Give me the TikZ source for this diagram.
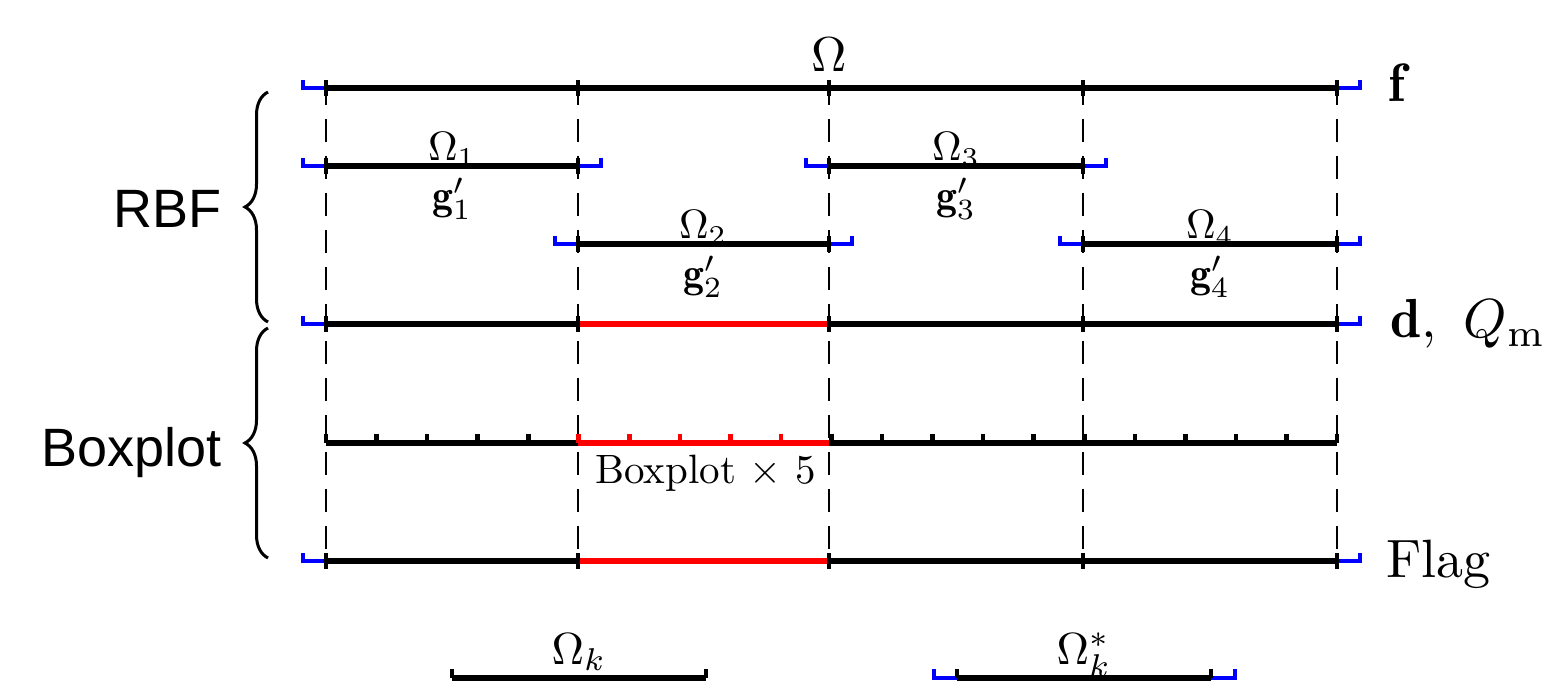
\documentclass[tikz,border=0pt]{standalone}
\usepackage{fontspec}
\usepackage{graphicx}
\newfontfamily\sansf{Liberation Sans}
\usetikzlibrary{decorations.pathreplacing}

% blue overlap ends of a sub-interval on row #1 spanning #2..#3
\newcommand\overlapends[3]{%
  \draw[ext] ({#2-23},{#1-8}) |- (#2,#1);
  \draw[ext] ({#3+23},{#1-8}) |- (#3,#1);
}
% black end tick crossing row #1 at #2
\newcommand\crosstick[2]{%
  \draw[tk] (#2,{#1-8}) -- (#2,{#1+8});
}
% 10pt text magnified by #1
\newcommand\enlarged[2]{\scalebox{#1}{#2}}

\begin{document}
\begin{tikzpicture}[x=0.5pt,y=-0.5pt,
  seg/.style={line width=2.7pt, black},
  hot/.style={line width=2.7pt, red},
  ext/.style={line width=2.4pt, blue, line join=miter},
  tk/.style={line width=2.3pt, black},
  rtk/.style={line width=2.3pt, red},
  guide/.style={line width=1.4pt, dash pattern=on 11.5pt off 7pt, dash phase=3pt},
  lab/.style={font=\fontsize{10}{12}\selectfont, inner sep=0pt},
  side/.style={font=\sansf\fontsize{27}{30}\selectfont, inner sep=0pt},
  brc/.style={decorate, decoration={brace, amplitude=11.5pt}, line width=1.5pt}]
\useasboundingbox (0,0) rectangle (1557,683);

% vertical guides through the subdomain boundaries
\foreach \x [count=\i] in {326,578,829,1083,1337} {
  \coordinate (top\i) at (\x,88);
  \coordinate (bot\i) at (\x,561);
  \draw[guide] (top\i) -- (bot\i);
}

% ---- full domain f ----
\overlapends{88}{326}{1337}
\draw[seg] (326,88) -- (1337,88);
\foreach \x in {326,578,829,1083,1337} {\crosstick{88}{\x}}
\node[lab, anchor=base] (om) at (829,72) {\enlarged{2.45}{$\Omega$}};
\node[lab, anchor=base west] (lf) at (1388,102) {\enlarged{2.7}{$\mathbf{f}$}};

% ---- subdomains 1 and 3 ----
\overlapends{166}{326}{578}
\overlapends{166}{829}{1083}
\draw[seg] (326,166) -- (578,166);
\draw[seg] (829,166) -- (1083,166);
\foreach \x in {326,578,829,1083} {\crosstick{166}{\x}}
\node[lab, anchor=base] (o1) at (452,161) {\enlarged{2.05}{$\Omega_1$}};
\node[lab] (g1) at (452,199) {\enlarged{2.1}{$\mathbf{g}'_1$}};
\node[lab, anchor=base] (o3) at (956,161) {\enlarged{2.05}{$\Omega_3$}};
\node[lab] (g3) at (956,199) {\enlarged{2.1}{$\mathbf{g}'_3$}};

% ---- subdomains 2 and 4 ----
\overlapends{244}{578}{829}
\overlapends{244}{1083}{1337}
\draw[seg] (578,244) -- (829,244);
\draw[seg] (1083,244) -- (1337,244);
\foreach \x in {578,829,1083,1337} {\crosstick{244}{\x}}
\node[lab, anchor=base] (o2) at (703,239) {\enlarged{2.05}{$\Omega_2$}};
\node[lab] (g2) at (703,277) {\enlarged{2.1}{$\mathbf{g}'_2$}};
\node[lab, anchor=base] (o4) at (1210,239) {\enlarged{2.05}{$\Omega_4$}};
\node[lab] (g4) at (1210,277) {\enlarged{2.1}{$\mathbf{g}'_4$}};

% ---- distance row ----
\overlapends{324}{326}{1337}
\draw[seg] (326,324) -- (1337,324);
\draw[hot] (578,324) -- (829,324);
\foreach \x in {326,578,829,1083,1337} {\crosstick{324}{\x}}
\node[lab, anchor=base west] (ld) at (1390,338) {\enlarged{2.75}{$\mathbf{d},\ Q_{\mathrm{m}}$}};

% ---- boxplot row ----
\draw[seg] (326,443) -- (1337,443);
\draw[hot] (578,443) -- (829,443);
\foreach \k in {0,...,20} {
  \pgfmathsetmacro\xx{326+\k*50.55}
  \ifnum\k>4 \ifnum\k<10
    \draw[rtk] (\xx,443) -- (\xx,434);
  \else
    \draw[tk] (\xx,443) -- (\xx,434);
  \fi\else
    \draw[tk] (\xx,443) -- (\xx,434);
  \fi
}
\node[lab, anchor=base west] (bx) at (595,484) {\enlarged{2.05}{Boxplot $\times$ 5}};

% ---- flag row ----
\overlapends{561}{326}{1337}
\draw[seg] (326,561) -- (1337,561);
\draw[hot] (578,561) -- (829,561);
\foreach \x in {326,578,829,1083,1337} {\crosstick{561}{\x}}
\node[lab, anchor=base west] (lflag) at (1386,577) {\enlarged{2.7}{Flag}};

% ---- legend bars ----
\draw[seg] (452,678) -- (706,678);
\draw[tk] (452,678) -- (452,669);
\draw[tk] (706,678) -- (706,669);
\node[lab, anchor=base] (ok) at (579,664) {\enlarged{2.25}{$\Omega_k$}};

\draw[ext] (934,669) |- (957,678);
\draw[ext] (1235,669) |- (1211,678);
\draw[seg] (957,678) -- (1211,678);
\draw[tk] (957,678) -- (957,669);
\draw[tk] (1211,678) -- (1211,669);
\node[lab, anchor=base] (oks) at (1084,664) {\enlarged{2.25}{$\Omega_k^{*}$}};

% ---- group braces ----
\draw[brc] (268,322) -- (268,92);
\draw[brc] (268,558) -- (268,328);
\node[side, anchor=base east] (rbf) at (222,228) {RBF};
\node[side, anchor=base east] (bxp) at (222,467) {Boxplot};
\end{tikzpicture}
\end{document}
